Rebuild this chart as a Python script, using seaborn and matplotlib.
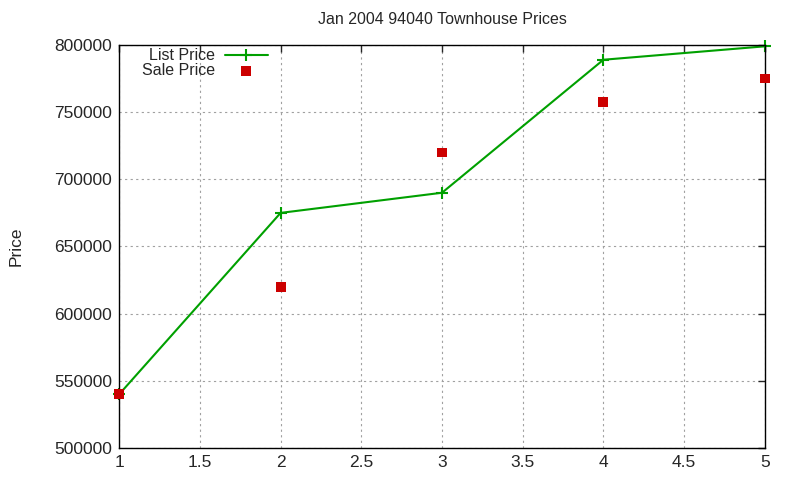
import matplotlib
matplotlib.use("Agg")
import matplotlib.pyplot as plt
import seaborn as sns
import pandas as pd

x_vals = [1, 2, 3, 4, 5]
list_price = [540000, 675000, 690000, 789000, 799000]
sale_price = [540000, 620000, 720000, 757500, 775000]
x_ticks = [1, 1.5, 2, 2.5, 3, 3.5, 4, 4.5, 5]
y_ticks = [500000, 550000, 600000, 650000, 700000, 750000, 800000]

sns.set_style("white")
plt.rcParams['font.family'] = ['Liberation Sans', 'DejaVu Sans']

df = pd.DataFrame({"x": x_vals, "List Price": list_price, "Sale Price": sale_price})

fig = plt.figure(figsize=(8, 4.8), dpi=100)
ax = fig.add_axes([0.149, 0.0667, 0.807, 0.8396])

sns.lineplot(data=df, x="x", y="List Price", ax=ax, color="#00a000", linewidth=1.5,
             marker="+", markersize=8, markeredgewidth=1.5, markeredgecolor="#00a000",
             label="List Price", clip_on=False)
sns.scatterplot(data=df, x="x", y="Sale Price", ax=ax, color="#cc0000", marker="s",
                s=50, edgecolor="none", label="Sale Price", zorder=3, clip_on=False)

ax.set_xlim(1, 5)
ax.set_ylim(500000, 800000)
ax.set_xticks(x_ticks)
ax.set_xticklabels([f"{t:g}" for t in x_ticks])
ax.set_yticks(y_ticks)
ax.set_yticklabels([str(t) for t in y_ticks])
ax.grid(True, color="#a0a0a0", linestyle=(0, (2, 3)), linewidth=0.8)
ax.tick_params(direction="in", top=True, right=True, length=5, width=1, labelsize=12.5, pad=5)
for s in ax.spines.values():
    s.set_color("black")
    s.set_linewidth(1)
ax.set_xlabel("")
ax.set_ylabel("Price", fontsize=12.5, labelpad=22)
ax.set_title("Jan 2004 94040 Townhouse Prices", fontsize=11.5, pad=15)

leg = ax.legend(loc="upper right", frameon=False, markerfirst=False, fontsize=11.5,
                bbox_to_anchor=(0.24, 1.008), handlelength=2.7, labelspacing=0.02,
                borderaxespad=0, handletextpad=0.6)
for t in leg.get_texts():
    t.set_ha("right")

fig.savefig("out.png", dpi=100)
